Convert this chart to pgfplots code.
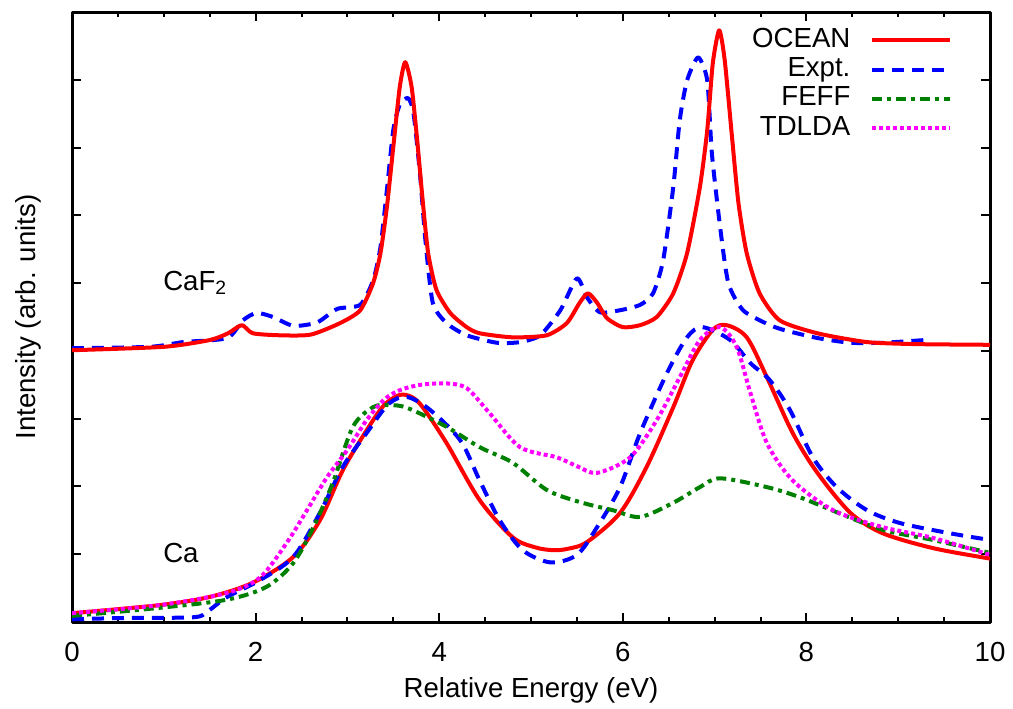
\documentclass[border=0pt]{standalone}
\usepackage{fontspec}
\setmainfont{Liberation Sans}
\usepackage{pgfplots}
\pgfplotsset{compat=1.18}
\definecolor{gred}{RGB}{255,0,0}
\definecolor{gblue}{RGB}{0,0,255}
\definecolor{ggreen}{RGB}{0,128,0}
\definecolor{gmag}{RGB}{255,0,255}
\begin{document}
\fontsize{13.8}{16}\selectfont
\begin{tikzpicture}
\begin{axis}[
  scale only axis, width=459pt, height=305pt,
  xmin=0, xmax=10, ymin=0, ymax=9,
  xtick={0,2,...,10}, minor x tick num=3,
  ytick={1,...,8}, yticklabels={},
  tick align=inside, tick pos=both,
  major tick length=4.5pt, minor tick length=2.5pt,
  axis line style={line width=1.5pt},
  every tick/.style={black, line width=1pt},
  /pgf/number format/assume math mode=true,
  xticklabel style={inner sep=0pt, yshift=-10pt},
  xlabel={Relative Energy (eV)}, ylabel={Intensity (arb. units)},
  every axis x label/.style={at={(axis description cs:0.5,-0.1115)}, anchor=center},
  every axis y label/.style={at={(axis description cs:-0.047,0.5)}, rotate=90, anchor=center},
  legend style={draw=none, fill=none, at={(0.966,0.985)}, anchor=north east,
    nodes={inner sep=1pt, text height=9.8pt, text depth=2.9pt}, column sep=9pt, row sep=0pt},
  legend cell align=right, legend plot pos=right,
  legend image code/.code={\draw[#1] (0pt,0pt) -- (39pt,0pt);},
  line join=round,
]
% ---- Ca (with legend) ----
\addplot[gred, line width=2pt, smooth, tension=0.5] coordinates {
(0,0.13) (0.96,0.25) (1.50,0.37) (1.97,0.58) (2.41,0.96) (2.70,1.50) (2.95,2.24) (3.21,2.83) (3.40,3.20) (3.57,3.35) (3.70,3.32) (3.82,3.17) (4.08,2.64) (4.44,1.80) (4.80,1.25) (5.05,1.10) (5.24,1.06) (5.40,1.08) (5.61,1.18) (5.97,1.61) (6.26,2.29) (6.55,3.17) (6.76,3.86) (6.98,4.31) (7.13,4.38) (7.35,4.20) (7.57,3.61) (7.85,2.79) (8.12,2.20) (8.48,1.61) (8.83,1.31) (9.38,1.09) (9.98,0.94) (10,0.94)};
\addlegendentry{OCEAN}
\addplot[gblue, line width=2pt, dash pattern=on 6pt off 4pt, smooth, tension=0.5] coordinates {
(0,0.04) (0.6,0.06) (1.32,0.07) (1.47,0.15) (1.69,0.37) (2.05,0.62) (2.41,0.96) (2.70,1.61) (2.95,2.29) (3.21,2.79) (3.45,3.22) (3.65,3.32) (3.90,3.13) (4.23,2.68) (4.44,2.09) (4.66,1.50) (4.91,1.06) (5.21,0.88) (5.50,0.99) (5.72,1.40) (5.97,1.99) (6.19,2.79) (6.48,3.67) (6.70,4.20) (6.87,4.35) (7.17,4.16) (7.39,3.82) (7.60,3.57) (7.82,3.13) (8.07,2.43) (8.33,1.99) (8.66,1.65) (9.02,1.46) (9.56,1.31) (10,1.21)};
\addlegendentry{Expt.}
\addplot[ggreen, line width=2pt, dash pattern=on 5pt off 2.5pt on 2pt off 2.5pt, smooth, tension=0.5] coordinates {
(0,0.09) (0.96,0.21) (1.69,0.33) (2.12,0.52) (2.41,0.87) (2.63,1.40) (2.84,2.05) (3.06,2.88) (3.28,3.17) (3.45,3.20) (3.65,3.16) (4.08,2.88) (4.44,2.58) (4.80,2.35) (5.17,1.95) (5.53,1.77) (5.89,1.65) (6.19,1.55) (6.55,1.76) (6.84,1.99) (7.06,2.12) (7.57,1.99) (7.93,1.84) (8.33,1.62) (8.83,1.36) (9.38,1.21) (10,1.02)};
\addlegendentry{FEFF}
\addplot[gmag, line width=2pt, dash pattern=on 2pt off 1.5pt, smooth, tension=0.5] coordinates {
(0,0.13) (0.96,0.25) (1.69,0.43) (2.05,0.66) (2.34,1.17) (2.56,1.65) (2.78,2.14) (3.00,2.54) (3.21,2.98) (3.40,3.28) (3.57,3.42) (3.80,3.50) (4.08,3.52) (4.30,3.45) (4.55,3.08) (4.88,2.58) (5.28,2.43) (5.50,2.30) (5.72,2.20) (6.08,2.43) (6.37,2.98) (6.62,3.61) (6.84,4.16) (7.06,4.35) (7.24,4.06) (7.39,3.38) (7.57,2.64) (7.85,2.09) (8.29,1.65) (8.83,1.40) (9.38,1.24) (10,0.99)};
\addlegendentry{TDLDA}
% ---- CaF2 ----
\addplot[gblue, line width=2pt, dash pattern=on 6pt off 4pt, forget plot, smooth, tension=0.4] coordinates {
(0,4.04) (0.85,4.06) (1.21,4.13) (1.69,4.19) (1.86,4.45) (2.01,4.56) (2.19,4.50) (2.41,4.37) (2.67,4.42) (2.89,4.62) (3.14,4.68) (3.28,5.04) (3.36,5.53) (3.43,6.37) (3.50,7.26) (3.57,7.63) (3.66,7.73) (3.72,7.51) (3.79,6.62) (3.85,5.63) (3.93,4.71) (4.08,4.41) (4.30,4.23) (4.63,4.12) (4.88,4.13) (5.10,4.23) (5.32,4.60) (5.50,5.07) (5.61,4.79) (5.75,4.57) (5.97,4.60) (6.19,4.68) (6.33,4.85) (6.44,5.34) (6.55,6.42) (6.62,7.40) (6.70,7.99) (6.82,8.33) (6.92,7.99) (6.97,6.92) (7.06,5.83) (7.15,5.00) (7.31,4.60) (7.57,4.40) (7.75,4.31) (8.12,4.19) (8.48,4.12) (8.83,4.12) (9.29,4.16)};
\addplot[gred, line width=2pt, forget plot, smooth, tension=0.4] coordinates {
(0,4.01) (1.0,4.06) (1.5,4.16) (1.7,4.26) (1.85,4.38) (1.97,4.26) (2.27,4.23) (2.6,4.24) (2.92,4.41) (3.14,4.60) (3.28,5.00) (3.36,5.44) (3.43,6.12) (3.50,7.01) (3.57,7.89) (3.63,8.26) (3.70,7.89) (3.76,7.11) (3.82,6.22) (3.88,5.44) (3.97,4.90) (4.12,4.56) (4.30,4.35) (4.44,4.26) (4.80,4.20) (5.17,4.23) (5.39,4.41) (5.53,4.71) (5.62,4.85) (5.72,4.71) (5.83,4.48) (6.00,4.35) (6.19,4.38) (6.37,4.50) (6.55,4.85) (6.70,5.44) (6.84,6.42) (6.92,7.26) (6.98,8.24) (7.05,8.73) (7.11,8.29) (7.19,7.15) (7.26,6.18) (7.35,5.44) (7.49,4.85) (7.71,4.45) (8.12,4.26) (8.66,4.13) (9.2,4.10) (10,4.09)};
\node[anchor=west, inner sep=0pt] at (axis cs:0.99,5.0) {CaF\textsubscript{2}};
\node[anchor=west, inner sep=0pt] at (axis cs:0.99,1.02) {Ca};
\end{axis}
\pgfresetboundingbox
\path (-36pt,-43pt) rectangle (470.5pt,311pt);
\end{tikzpicture}
\end{document}
